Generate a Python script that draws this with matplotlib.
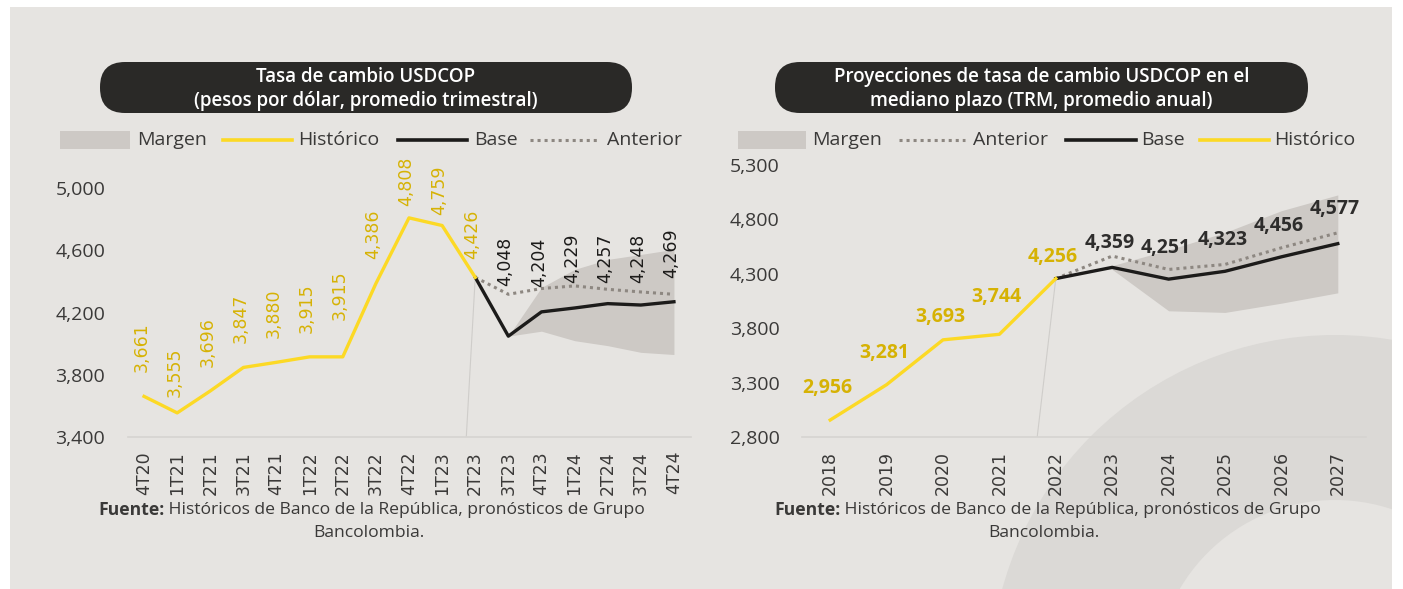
import matplotlib
matplotlib.use("Agg")
import matplotlib.pyplot as plt
from matplotlib.patches import Rectangle, FancyBboxPatch, Wedge
from matplotlib.lines import Line2D

# ── Data: left chart (quarterly) ─────────────────────────────────────────
Q_LABELS = ["4T20", "1T21", "2T21", "3T21", "4T21", "1T22", "2T22", "3T22",
            "4T22", "1T23", "2T23", "3T23", "4T23", "1T24", "2T24", "3T24", "4T24"]
Q_HIST = [3661, 3555, 3696, 3847, 3880, 3915, 3915, 4386, 4808, 4759, 4426]
Q_BASE = [4426, 4048, 4204, 4229, 4257, 4248, 4269]          # from 2T23
Q_ANTERIOR = [4426, 4317, 4354, 4371, 4349, 4332, 4317]      # from 2T23
Q_BAND_LOW = [4048, 4080, 4019, 3987, 3944, 3930]            # from 3T23
Q_BAND_HIGH = [4048, 4361, 4477, 4541, 4573, 4606]

# ── Data: right chart (annual) ───────────────────────────────────────────
Y_LABELS = ["2018", "2019", "2020", "2021", "2022", "2023", "2024", "2025", "2026", "2027"]
Y_HIST = [2956, 3281, 3693, 3744, 4256]
Y_BASE = [4256, 4359, 4251, 4323, 4456, 4577]                 # from 2022
Y_ANTERIOR = [4256, 4463, 4340, 4386, 4539, 4677]             # from 2022
Y_BAND_LOW = [4340, 3960, 3945, 4030, 4125]                   # from 2023
Y_BAND_HIGH = [4375, 4520, 4680, 4880, 5025]

# label lift above the point, in pixels
Q_HIST_DY = [24, 16, 24, 24, 24, 24, 37, 25, 12, 11, 18]
Q_BASE_DY = [50, 25, 25, 21, 22, 24]
Y_HIST_DY = [32, 32, 23, 37, 22]
Y_BASE_DY = [24, 31, 31, 31, 35]

BG = "#e6e4e1"
RING = "#dbd9d6"
YELLOW = "#fcd925"
YELLOW_TXT = "#d6b204"
BLACK = "#1c1b1a"
BAND = "#cdc9c5"
DOTS = "#8d8781"
TEXT = "#3a3938"
FONT = "Open Sans"

W, H = 1403, 589
fig = plt.figure(figsize=(W / 100, H / 100), dpi=100)

# ── Background layer in pixel coordinates ────────────────────────────────
bg = fig.add_axes([0, 0, 1, 1], zorder=0)
bg.set_xlim(0, W)
bg.set_ylim(H, 0)
bg.axis("off")
panel = Rectangle((10, 7), 1382, 590, facecolor=BG, edgecolor="none")
bg.add_patch(panel)
ring = Wedge((1335, 680), 345, 0, 360, width=165, facecolor=RING, edgecolor="none")
bg.add_patch(ring)
ring.set_clip_path(panel)

for x0, x1, lines in [(100, 632, ["Tasa de cambio USDCOP",
                                  "(pesos por dólar, promedio trimestral)"]),
                      (775, 1308, ["Proyecciones de tasa de cambio USDCOP en el",
                                   "mediano plazo (TRM, promedio anual)"])]:
    bg.add_patch(FancyBboxPatch((x0, 62), x1 - x0, 51,
                                boxstyle="round,pad=0,rounding_size=25",
                                mutation_aspect=1, facecolor="#2a2927",
                                edgecolor="none"))
    cx = (x0 + x1) / 2
    bg.text(cx, 77, lines[0], color="white", ha="center", va="center",
            fontsize=13.5, family=FONT, fontweight="semibold")
    bg.text(cx, 101, lines[1], color="white", ha="center", va="center",
            fontsize=13.5, family=FONT, fontweight="semibold")


def legend_item(kind, x0, x1, tx, label, y=140):
    if kind == "band":
        bg.add_patch(Rectangle((x0, y - 9), x1 - x0, 18, facecolor=BAND, edgecolor="none"))
    elif kind == "hist":
        bg.add_line(Line2D([x0, x1], [y, y], color=YELLOW, lw=2.6))
    elif kind == "base":
        bg.add_line(Line2D([x0, x1], [y, y], color=BLACK, lw=2.6))
    else:
        bg.add_line(Line2D([x0, x1], [y, y], color=DOTS, lw=2.2, ls=(0, (1, 1.3))))
    bg.text(tx, y, label, ha="left", va="center", fontsize=14, family=FONT, color=TEXT)


legend_item("band", 60, 130, 137, "Margen")
legend_item("hist", 223, 292, 298, "Histórico")
legend_item("base", 398, 467, 474, "Base")
legend_item("ant", 530, 600, 607, "Anterior")

legend_item("band", 738, 806, 812, "Margen")
legend_item("ant", 899, 965, 973, "Anterior")
legend_item("base", 1066, 1136, 1141, "Base")
legend_item("hist", 1200, 1269, 1274, "Histórico")

# source notes
for x_left, cx in ((98, 369), (774, 1044)):
    t = bg.text(x_left, 510, "Fuente:", ha="left", va="center", fontsize=12.6,
                family=FONT, fontweight="bold", color=TEXT)
    bg.annotate(" Históricos de Banco de la República, pronósticos de Grupo",
                xy=(1, 0.5), xycoords=t, ha="left", va="center", fontsize=12.6,
                family=FONT, color=TEXT)
    bg.text(cx, 533, "Bancolombia.", ha="center", va="center", fontsize=12.6,
            family=FONT, color=TEXT)


def style_axes(ax):
    ax.set_facecolor("none")
    for s in ("top", "right", "left"):
        ax.spines[s].set_visible(False)
    ax.spines["bottom"].set_color("#d6d4d1")
    ax.spines["bottom"].set_linewidth(1.2)
    ax.tick_params(axis="both", length=0)
    ax.tick_params(axis="y", pad=16, labelsize=14, labelcolor=TEXT)
    ax.tick_params(axis="x", pad=10, labelsize=12.5, labelcolor=TEXT, labelrotation=90)
    for t in ax.get_yticklabels():
        t.set_family(FONT)
    for t in ax.get_xticklabels():
        t.set_family("DejaVu Sans")


def px(v):
    return v * 0.72


# ── Left chart ───────────────────────────────────────────────────────────
axl = fig.add_axes([127.5 / W, (H - 437) / H, 563 / W, 249 / H], zorder=2)
xq = list(range(len(Q_LABELS)))
start = len(Q_HIST) - 1
xb = xq[start:]
axl.fill_between(xb[1:], Q_BAND_LOW, Q_BAND_HIGH, color=BAND, lw=0, zorder=1)
axl.plot([start, start - 0.27], [Q_HIST[-1], 3400], color="#cfcdca", lw=0.8, zorder=1)
axl.plot(xb, Q_ANTERIOR, color=DOTS, lw=2.2, ls=(0, (1, 1.3)), zorder=2)
axl.plot(xb, Q_BASE, color=BLACK, lw=2.4, zorder=3)
axl.plot(xq[:len(Q_HIST)], Q_HIST, color=YELLOW, lw=2.4, zorder=4)
for i, (v, dy) in enumerate(zip(Q_HIST, Q_HIST_DY)):
    axl.annotate(f"{v:,}", (i, v), xytext=(-2, px(dy)), textcoords="offset points",
                 rotation=90, ha="center", va="bottom", fontsize=12.5,
                 family="DejaVu Sans", color=YELLOW_TXT, annotation_clip=False)
for i, (v, dy) in enumerate(zip(Q_BASE[1:], Q_BASE_DY)):
    axl.annotate(f"{v:,}", (start + 1 + i, v), xytext=(-2, px(dy)), textcoords="offset points",
                 rotation=90, ha="center", va="bottom", fontsize=12.5,
                 family="DejaVu Sans", color=BLACK, annotation_clip=False)
axl.set_xlim(-0.5, len(Q_LABELS) - 0.5)
axl.set_ylim(3400, 5000)
axl.set_yticks([3400, 3800, 4200, 4600, 5000])
axl.set_yticklabels([f"{v:,}" for v in [3400, 3800, 4200, 4600, 5000]])
axl.set_xticks(xq)
axl.set_xticklabels(Q_LABELS)
style_axes(axl)

# ── Right chart ──────────────────────────────────────────────────────────
axr = fig.add_axes([802 / W, (H - 437) / H, 564 / W, 272 / H], zorder=2)
xy = list(range(len(Y_LABELS)))
start = len(Y_HIST) - 1
xb = xy[start:]
axr.fill_between(xb[1:], Y_BAND_LOW, Y_BAND_HIGH, color=BAND, lw=0, zorder=1)
axr.plot([start, start - 0.33], [Y_HIST[-1], 2800], color="#cfcdca", lw=0.8, zorder=1)
axr.plot(xb, Y_ANTERIOR, color=DOTS, lw=2.2, ls=(0, (1, 1.3)), zorder=2)
axr.plot(xb, Y_BASE, color=BLACK, lw=2.4, zorder=3)
axr.plot(xy[:len(Y_HIST)], Y_HIST, color=YELLOW, lw=2.4, zorder=4)
for i, (v, dy) in enumerate(zip(Y_HIST, Y_HIST_DY)):
    axr.annotate(f"{v:,}", (i, v), xytext=(-2, px(dy)), textcoords="offset points",
                 ha="center", va="center", fontsize=14, fontweight="bold",
                 family=FONT, color=YELLOW_TXT, annotation_clip=False)
for i, (v, dy) in enumerate(zip(Y_BASE[1:], Y_BASE_DY)):
    axr.annotate(f"{v:,}", (start + 1 + i, v), xytext=(-2, px(dy)), textcoords="offset points",
                 ha="center", va="center", fontsize=14, fontweight="bold",
                 family=FONT, color="#2e2d2c", annotation_clip=False)
axr.set_xlim(-0.5, len(Y_LABELS) - 0.5)
axr.set_ylim(2800, 5300)
axr.set_yticks([2800, 3300, 3800, 4300, 4800, 5300])
axr.set_yticklabels([f"{v:,}" for v in [2800, 3300, 3800, 4300, 4800, 5300]])
axr.set_xticks(xy)
axr.set_xticklabels(Y_LABELS)
style_axes(axr)

fig.savefig("out.png", dpi=100, facecolor="white")
